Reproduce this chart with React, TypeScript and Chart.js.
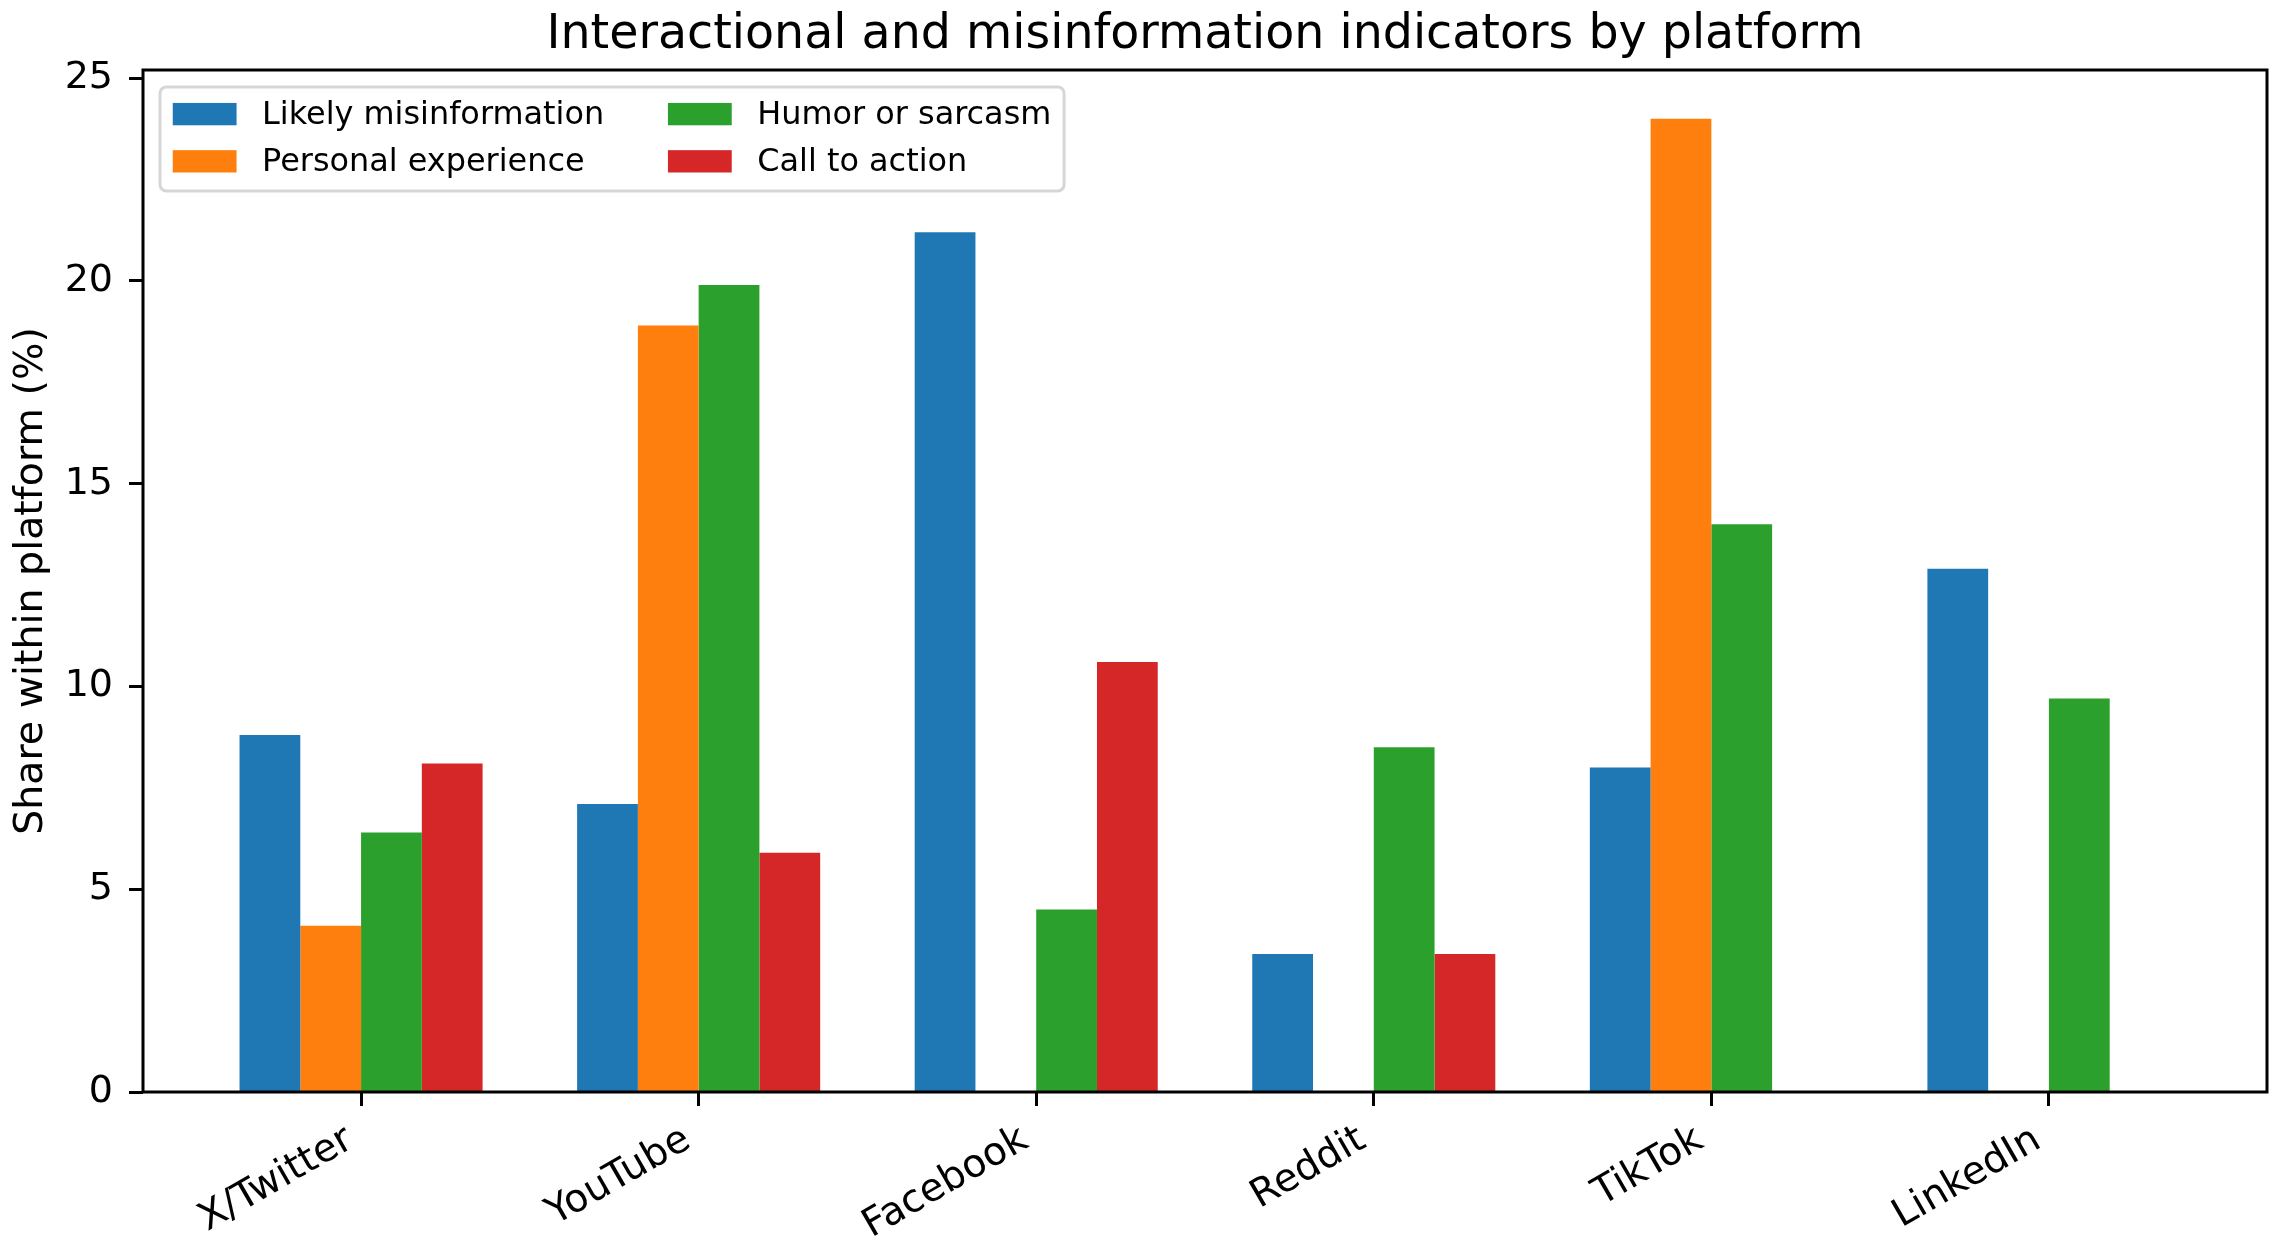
import React, { useEffect, useRef } from "react";
import { Chart, registerables } from "chart.js";

Chart.register(...registerables);

const titleText = "Interactional and misinformation indicators by platform";
const yAxisTitle = "Share within platform (%)";
const categories = ["X/Twitter", "YouTube", "Facebook", "Reddit", "TikTok", "LinkedIn"];
const seriesNames = ["Likely misinformation", "Personal experience", "Humor or sarcasm", "Call to action"];
const likelyMisinformation = [8.8, 7.1, 21.2, 3.4, 8.0, 12.9];
const personalExperience = [4.1, 18.9, 0, 0, 24.0, 0];
const humorOrSarcasm = [6.4, 19.9, 4.5, 8.5, 14.0, 9.7];
const callToAction = [8.1, 5.9, 10.6, 3.4, 0, 0];
const seriesColors = ["#1f77b4", "#ff7f0e", "#2ca02c", "#d62728"];
const yTickValues = [0, 5, 10, 15, 20, 25];
const yMax = 25.2;
const xMargin = 0.646;

const FONT = "DejaVu Sans";

const framePlugin = {
  id: "mplFrame",
  afterDatasetsDraw(chart: any) {
    const { ctx, chartArea } = chart;
    ctx.save();
    ctx.strokeStyle = "#000";
    ctx.lineWidth = 3;
    ctx.strokeRect(chartArea.left, chartArea.top, chartArea.right - chartArea.left, chartArea.bottom - chartArea.top);
    ctx.restore();
  },
};

const legendPlugin = {
  id: "mplLegend",
  afterDraw(chart: any) {
    const { ctx, chartArea } = chart;
    const fs = 31.9;
    ctx.save();
    ctx.font = `${fs}px "${FONT}"`;
    const items = chart.data.datasets.map((ds: any) => ({ label: ds.label, color: ds.backgroundColor }));
    const rows = 2;
    const cols = Math.ceil(items.length / rows);
    const pad = 0.4 * fs;
    const hl = 2 * fs;
    const hh = 0.7 * fs;
    const htp = 0.8 * fs;
    const colSp = 2 * fs;
    const rowGap = 1.48 * fs;
    const left = chartArea.left + 17;
    const top = chartArea.top + 17;
    const colW: number[] = [];
    for (let c = 0; c < cols; c++) {
      let w = 0;
      for (let r = 0; r < rows; r++) {
        const it = items[c * rows + r];
        if (it) w = Math.max(w, ctx.measureText(it.label).width);
      }
      colW.push(w);
    }
    const colX: number[] = [];
    let x = left + pad;
    for (let c = 0; c < cols; c++) {
      colX.push(x);
      x += hl + htp + colW[c] + (c < cols - 1 ? colSp : 0);
    }
    const right = x + pad;
    const firstRow = top + 0.85 * fs;
    const bottom = firstRow + (rows - 1) * rowGap + 0.93 * fs;

    ctx.beginPath();
    (ctx as any).roundRect(left, top, right - left, bottom - top, 0.2 * fs);
    ctx.fillStyle = "rgba(255,255,255,0.8)";
    ctx.fill();
    ctx.lineWidth = 3;
    ctx.strokeStyle = "rgba(204,204,204,0.8)";
    ctx.stroke();

    ctx.textAlign = "left";
    ctx.textBaseline = "middle";
    items.forEach((it: any, i: number) => {
      const c = Math.floor(i / rows);
      const r = i % rows;
      const cy = firstRow + r * rowGap;
      ctx.fillStyle = it.color;
      ctx.fillRect(colX[c], cy - hh / 2, hl, hh);
      ctx.fillStyle = "#000";
      ctx.fillText(it.label, colX[c] + hl + htp, cy + 1.5);
    });
    ctx.restore();
  },
};

export default function App() {
  const canvasRef = useRef<HTMLCanvasElement | null>(null);

  useEffect(() => {
    document.body.style.margin = "0";
    const canvas = canvasRef.current;
    if (!canvas) return;
    const seriesValues = [likelyMisinformation, personalExperience, humorOrSarcasm, callToAction];
    const chart = new Chart(canvas, {
      type: "bar",
      data: {
        labels: categories,
        datasets: seriesNames.map((name, i) => ({
          label: name,
          data: seriesValues[i],
          backgroundColor: seriesColors[i],
          borderWidth: 0,
          categoryPercentage: 0.72,
          barPercentage: 1.0,
        })),
      },
      options: {
        responsive: false,
        animation: false,
        layout: { padding: { top: 0, right: 12, bottom: 0, left: 0 } },
        plugins: {
          legend: { display: false },
          tooltip: { enabled: false },
          title: {
            display: true,
            text: titleText,
            fullSize: false,
            color: "#000",
            font: { family: FONT, size: 47.5, weight: "normal", lineHeight: 1.2 },
            padding: { top: 7.2, bottom: 5.8 },
          },
        },
        scales: {
          x: {
            type: "category",
            offset: true,
            grid: {
              display: true,
              offset: false,
              drawOnChartArea: false,
              drawTicks: true,
              tickLength: 14,
              tickWidth: 3,
              tickColor: "#000",
            },
            border: { display: false },
            ticks: {
              color: "#000",
              font: { family: FONT, size: 39 },
              minRotation: 30,
              maxRotation: 30,
              autoSkip: false,
              padding: 11,
              labelOffset: -11,
            },
            afterBuildTicks: (scale: any) => {
              scale._startValue = -xMargin;
              scale._valueRange = categories.length - 1 + 2 * xMargin;
            },
            afterFit: (scale: any) => {
              scale.height = 145;
            },
          },
          y: {
            type: "linear",
            min: 0,
            max: yMax,
            grid: {
              display: true,
              drawOnChartArea: false,
              drawTicks: true,
              tickLength: 14,
              tickWidth: 3,
              tickColor: "#000",
            },
            border: { display: false },
            ticks: {
              color: "#000",
              font: { family: FONT, size: 38 },
              padding: 16,
            },
            afterBuildTicks: (scale: any) => {
              scale.ticks = yTickValues.map((v) => ({ value: v }));
            },
            title: {
              display: true,
              text: yAxisTitle,
              color: "#000",
              font: { family: FONT, size: 39.5, lineHeight: 1.2 },
              padding: { top: 8, bottom: 0 },
            },
            afterFit: (scale: any) => {
              scale.width = 143;
            },
          },
        },
      },
      plugins: [framePlugin, legendPlugin],
    });
    return () => chart.destroy();
  }, []);

  return (
    <div style={{ position: "absolute", left: 0, top: 0, width: 2279, height: 1237, background: "#fff" }}>
      <canvas ref={canvasRef} width={2279} height={1237} style={{ display: "block" }} />
    </div>
  );
}
